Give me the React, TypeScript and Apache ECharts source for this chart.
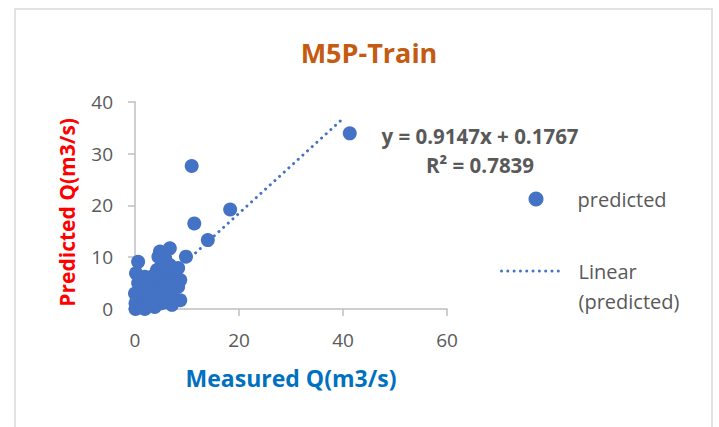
import React, { useEffect, useRef } from "react";
import * as echarts from "echarts";

const TITLE = "M5P-Train";
const X_NAME = "Measured Q(m3/s)";
const Y_NAME = "Predicted Q(m3/s)";
const SERIES_NAME = "predicted";
const TREND_NAME = "Linear (predicted)";
const TREND_LABEL_LINES = ["Linear", "(predicted)"];
const EQUATION = "y = 0.9147x + 0.1767";
const R2_TEXT = "R² = 0.7839";
const SLOPE = 0.9147;
const INTERCEPT = 0.1767;
const TREND_X_RANGE: number[] = [0, 40.3];

const measured: number[] = [
  41.3, 10.9, 18.3, 11.4, 14.0, 9.8, 0.6, 0.2, 4.8, 6.7, 5.8, 4.5, 8.3, 8.7, 8.3,
  8.7, 7.1, 5.8, 4.5, 3.8, 5.8, 7.1, 2.6, 1.9, 1.3, 0.0, 0.1, 0.1, 1.9, 3.8,
  3.2, 5.1, 1.3, 0.6, 3.5, 5.1, 7.1, 7.7, 4.2, 5.1, 6.7, 3.2, 0.3, 0.5, 1.0,
  2.5, 0.2, 2.0, 1.5, 6.0, 4.0, 3.0, 2.2, 0.8,
];
const predicted: number[] = [
  33.9, 27.6, 19.2, 16.5, 13.3, 10.1, 9.1, 6.9, 11.1, 11.7, 9.8, 10.1, 7.9, 5.6, 4.3,
  1.7, 0.8, 2.4, 5.6, 4.3, 6.9, 6.2, 5.0, 6.2, 3.7, 3.0, 1.1, 0.0, 0.0, 0.4,
  1.7, 1.1, 1.7, 5.0, 3.0, 3.7, 3.0, 5.0, 7.5, 8.5, 8.5, 6.2, 0.5, 2.0, 1.0,
  2.5, 0.2, 3.5, 0.5, 4.5, 2.0, 0.8, 1.2, 0.3,
];

const xTicks = { min: 0, max: 60, interval: 20 };
const yTicks = { min: 0, max: 40, interval: 10 };

const FONT = "'Open Sans', 'DejaVu Sans', sans-serif";
const BLUE = "#4472C4";
const GRAY_TEXT = "#595959";
const AXIS_GRAY = "#BFBFBF";
const DOT_DASH = [0.01, 6.3];

export default function App() {
  const ref = useRef<HTMLDivElement>(null);

  useEffect(() => {
    if (!ref.current) return;
    const chart = echarts.init(ref.current, undefined, { renderer: "svg" });
    const points = measured.map((x, i) => [x, predicted[i]]);
    const trend = TREND_X_RANGE.map((x) => [x, SLOPE * x + INTERCEPT]);

    chart.setOption({
      animation: false,
      backgroundColor: "#ffffff",
      title: {
        text: TITLE,
        left: 364,
        top: 47,
        textAlign: "center",
        textVerticalAlign: "middle",
        textStyle: {
          color: "#C55A11",
          fontFamily: FONT,
          fontWeight: "bold",
          fontSize: 27,
        },
      } as any,
      grid: { left: 135, right: 272, top: 101.7, bottom: 118 },
      xAxis: {
        type: "value",
        min: xTicks.min,
        max: xTicks.max,
        interval: xTicks.interval,
        name: X_NAME,
        nameLocation: "middle",
        nameGap: 57,
        nameTextStyle: {
          color: "#0070C0",
          fontFamily: FONT,
          fontWeight: "bold",
          fontSize: 23,
        },
        axisLine: { show: true, lineStyle: { color: AXIS_GRAY, width: 1.5 } },
        axisTick: { show: true, length: 7, lineStyle: { color: AXIS_GRAY, width: 1.5 } },
        axisLabel: { color: GRAY_TEXT, fontFamily: FONT, fontSize: 19, margin: 21 },
        splitLine: { show: false },
      },
      yAxis: {
        type: "value",
        min: yTicks.min,
        max: yTicks.max,
        interval: yTicks.interval,
        name: Y_NAME,
        nameLocation: "middle",
        nameRotate: 90,
        nameGap: 58,
        nameTextStyle: {
          color: "#FF0000",
          fontFamily: FONT,
          fontWeight: "bold",
          fontSize: 21,
          padding: [0, 14, 0, 0],
        },
        axisLine: { show: true, lineStyle: { color: AXIS_GRAY, width: 1.5 } },
        axisTick: { show: true, length: 7, lineStyle: { color: AXIS_GRAY, width: 1.5 } },
        axisLabel: { color: GRAY_TEXT, fontFamily: FONT, fontSize: 19, margin: 22 },
        splitLine: { show: false },
      },
      legend: [
        {
          data: [SERIES_NAME],
          left: 528.5,
          top: 189,
          padding: 0,
          itemWidth: 15,
          itemHeight: 15,
          selectedMode: false,
          textStyle: {
            color: GRAY_TEXT,
            fontFamily: FONT,
            fontSize: 20,
            padding: [0, 0, 0, 29],
          },
        },
        {
          data: [TREND_NAME],
          left: 500,
          top: 226,
          padding: 0,
          itemWidth: 63,
          itemHeight: 1,
          itemStyle: { opacity: 0 },
          lineStyle: { color: BLUE, width: 3, type: DOT_DASH, cap: "round" },
          selectedMode: false,
          formatter: () => " \n" + TREND_LABEL_LINES.join("\n"),
          textStyle: {
            color: GRAY_TEXT,
            fontFamily: FONT,
            fontSize: 20,
            lineHeight: 30,
            padding: [0, 0, 0, 9],
          },
        },
      ],
      series: [
        {
          name: SERIES_NAME,
          type: "scatter",
          data: points,
          symbol: "circle",
          symbolSize: 14,
          itemStyle: { color: BLUE, opacity: 1 },
          z: 2,
        },
        {
          name: TREND_NAME,
          type: "line",
          data: trend,
          symbol: "none",
          showSymbol: false,
          lineStyle: { color: BLUE, width: 3, type: DOT_DASH, cap: "round" },
          itemStyle: { color: BLUE },
          z: 3,
        },
      ],
      graphic: [
        {
          type: "rect",
          shape: { x: 15, y: 9, width: 697, height: 440 },
          style: { fill: "none", stroke: "#D9D9D9", lineWidth: 1.5 },
          silent: true,
          z: -10,
        },
        {
          type: "text",
          x: 480,
          y: 136,
          style: {
            text: EQUATION,
            fill: GRAY_TEXT,
            font: `bold 20.5px ${FONT}`,
            textAlign: "center",
            textVerticalAlign: "middle",
          },
        },
        {
          type: "text",
          x: 480,
          y: 165,
          style: {
            text: R2_TEXT,
            fill: GRAY_TEXT,
            font: `bold 20.5px ${FONT}`,
            textAlign: "center",
            textVerticalAlign: "middle",
          },
        },
      ],
    });

    return () => chart.dispose();
  }, []);

  return (
    <div
      ref={ref}
      style={{ position: "absolute", left: 0, top: 0, width: 719, height: 427 }}
    />
  );
}
